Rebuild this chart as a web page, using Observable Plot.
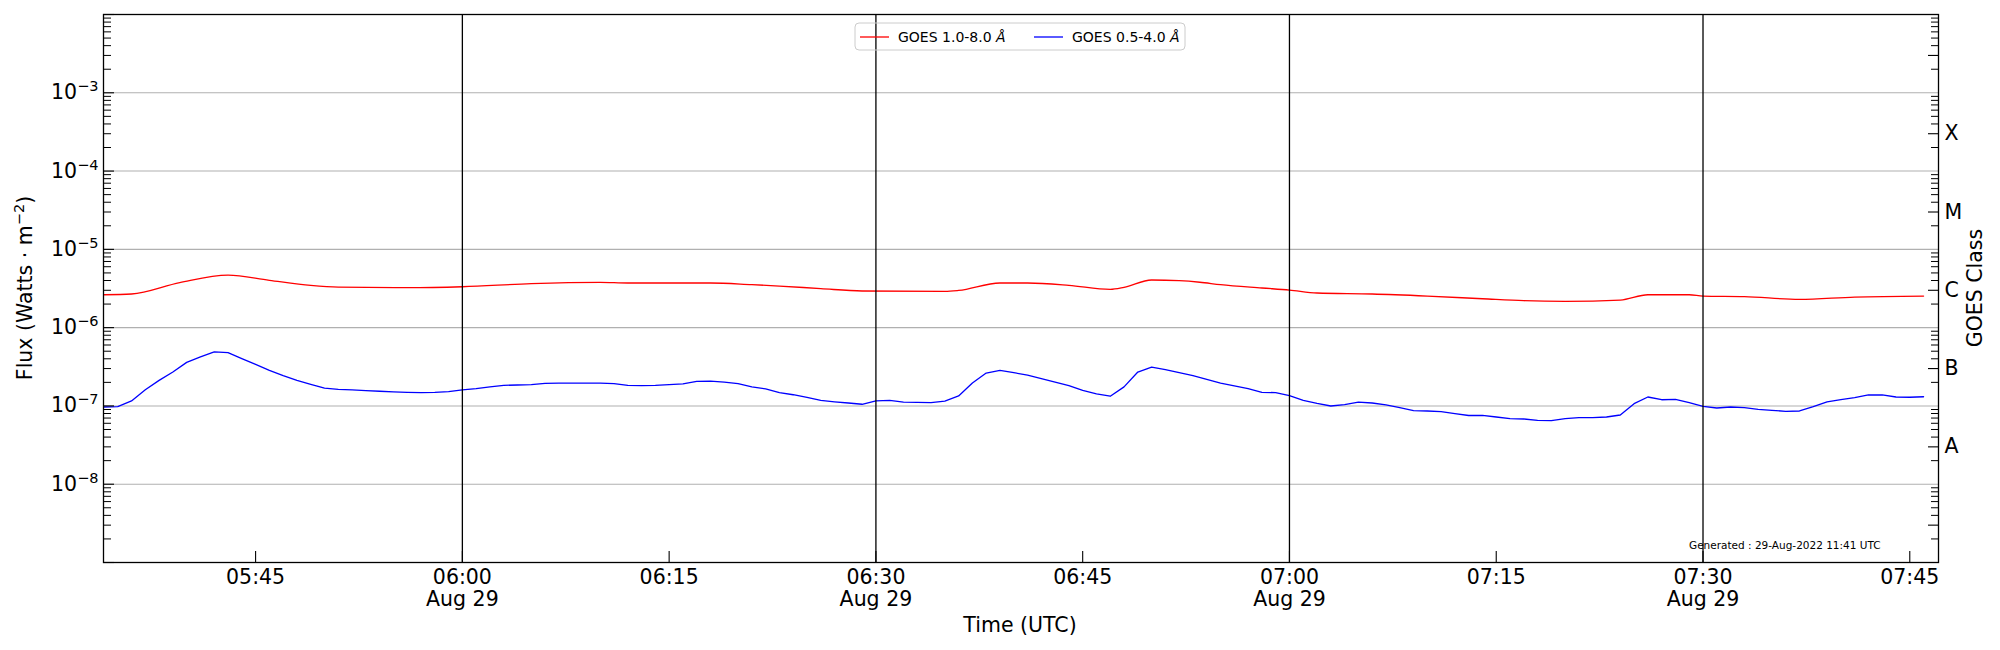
<!DOCTYPE html>
<html><head><meta charset="utf-8">
<script src="https://cdn.jsdelivr.net/npm/d3@7"></script>
<script src="https://cdn.jsdelivr.net/npm/@observablehq/plot@0.6"></script>
<style>
html,body{margin:0;padding:0;background:#fff;}
#chart{position:relative;width:2000px;height:650px;font-family:"DejaVu Sans",sans-serif;}
</style></head><body><div id="chart"></div>
<script>
const day = "2022-08-29";

// GOES 0.5-4.0 Å (blue), 1-minute samples
const blueTimes = [
"05:34","05:35","05:36","05:37","05:38","05:39","05:40","05:41","05:42","05:43","05:44","05:45","05:46","05:47","05:48","05:49","05:50","05:51","05:52","05:53","05:54","05:55","05:56","05:57","05:58","05:59",
"06:00","06:01","06:02","06:03","06:04","06:05","06:06","06:07","06:08","06:09","06:10","06:11","06:12","06:13","06:14","06:15","06:16","06:17","06:18","06:19","06:20","06:21","06:22","06:23","06:24","06:25","06:26","06:27","06:28","06:29",
"06:30","06:31","06:32","06:33","06:34","06:35","06:36","06:37","06:38","06:39","06:40","06:41","06:42","06:43","06:44","06:45","06:46","06:47","06:48","06:49","06:50","06:51","06:52","06:53","06:54","06:55","06:56","06:57","06:58","06:59",
"07:00","07:01","07:02","07:03","07:04","07:05","07:06","07:07","07:08","07:09","07:10","07:11","07:12","07:13","07:14","07:15","07:16","07:17","07:18","07:19","07:20","07:21","07:22","07:23","07:24","07:25","07:26","07:27","07:28","07:29",
"07:30","07:31","07:32","07:33","07:34","07:35","07:36","07:37","07:38","07:39","07:40","07:41","07:42","07:43","07:44","07:45","07:46"];
const blueFlux = [
9.69e-8,9.79e-8,1.16e-7,1.61e-7,2.12e-7,2.71e-7,3.60e-7,4.22e-7,4.89e-7,4.79e-7,4.02e-7,3.40e-7,2.85e-7,2.44e-7,2.12e-7,1.89e-7,1.69e-7,1.63e-7,1.60e-7,1.57e-7,1.54e-7,1.51e-7,1.49e-7,1.48e-7,1.49e-7,1.52e-7,
1.60e-7,1.66e-7,1.75e-7,1.83e-7,1.85e-7,1.87e-7,1.94e-7,1.96e-7,1.96e-7,1.96e-7,1.96e-7,1.93e-7,1.83e-7,1.82e-7,1.83e-7,1.87e-7,1.91e-7,2.06e-7,2.08e-7,2.02e-7,1.93e-7,1.75e-7,1.65e-7,1.48e-7,1.39e-7,1.29e-7,1.18e-7,1.13e-7,1.09e-7,1.05e-7,
1.16e-7,1.18e-7,1.12e-7,1.11e-7,1.10e-7,1.15e-7,1.34e-7,1.96e-7,2.63e-7,2.85e-7,2.66e-7,2.48e-7,2.23e-7,2.02e-7,1.82e-7,1.58e-7,1.43e-7,1.33e-7,1.75e-7,2.71e-7,3.14e-7,2.91e-7,2.66e-7,2.44e-7,2.19e-7,1.96e-7,1.80e-7,1.66e-7,1.49e-7,1.48e-7,
1.35e-7,1.18e-7,1.08e-7,9.98e-8,1.04e-7,1.12e-7,1.09e-7,1.03e-7,9.50e-8,8.70e-8,8.62e-8,8.45e-8,7.97e-8,7.55e-8,7.58e-8,7.22e-8,6.88e-8,6.81e-8,6.55e-8,6.48e-8,6.88e-8,7.08e-8,7.08e-8,7.22e-8,7.66e-8,1.07e-7,1.30e-7,1.20e-7,1.21e-7,1.10e-7,
9.88e-8,9.41e-8,9.69e-8,9.50e-8,9.05e-8,8.79e-8,8.53e-8,8.62e-8,9.79e-8,1.13e-7,1.20e-7,1.28e-7,1.38e-7,1.38e-7,1.30e-7,1.29e-7,1.31e-7];

// GOES 1.0-8.0 Å (red)
const redTimes = ["05:34:00","05:36:00","05:39:30","05:43:00","05:46:00","05:49:00","05:51:00","05:56:00","06:00:00","06:05:00","06:10:00","06:12:00","06:18:00","06:21:00","06:23:00","06:26:00","06:29:00","06:35:00","06:36:00","06:39:00","06:41:00","06:44:00","06:47:00","06:48:00","06:50:00","06:52:00","06:53:30","06:55:00","06:58:00","07:00:00","07:02:00","07:06:00","07:10:00","07:14:00","07:17:00","07:20:00","07:24:00","07:26:00","07:29:00","07:30:00","07:33:00","07:37:00","07:41:00","07:46:00"];
const redFlux = [2.63e-6,2.69e-6,3.76e-6,4.70e-6,4.02e-6,3.47e-6,3.30e-6,3.24e-6,3.33e-6,3.65e-6,3.79e-6,3.72e-6,3.72e-6,3.54e-6,3.40e-6,3.15e-6,2.94e-6,2.91e-6,2.99e-6,3.72e-6,3.72e-6,3.47e-6,3.08e-6,3.27e-6,4.06e-6,3.98e-6,3.80e-6,3.54e-6,3.21e-6,3.02e-6,2.77e-6,2.69e-6,2.53e-6,2.34e-6,2.21e-6,2.17e-6,2.25e-6,2.63e-6,2.63e-6,2.53e-6,2.49e-6,2.30e-6,2.46e-6,2.53e-6];

const xLimits = ["05:33:58","07:47:05"];
const xTickTimes = ["05:45","06:00","06:15","06:30","06:45","07:00","07:15","07:30","07:45"];
const dayLineTimes = ["06:00","06:30","07:00","07:30"];
const decadeExponents = [-9,-8,-7,-6,-5,-4,-3,-2];
const labeledExponents = [-8,-7,-6,-5,-4,-3];
const minorMultipliers = [2,3,4,5,6,7,8,9];
const classExponents = [-8,-7,-6,-5,-4];
const classLabels = ["A","B","C","M","X"];
const legendLabels = ["GOES 1.0-8.0 ", "GOES 0.5-4.0 "];
const seriesColors = ["red","blue"];

const T = s => new Date(`${day}T${s}${s.length === 5 ? ":00" : ""}Z`);
const blueData = blueTimes.map((t, i) => ({t: T(t), v: blueFlux[i]}));
const redData = redTimes.map((t, i) => ({t: T(t), v: redFlux[i]}));
const xTicks = xTickTimes.map(T);
const dayLines = dayLineTimes.map(T);
const decades = decadeExponents.map(e => Math.pow(10, e));
const labeledDecades = labeledExponents.map(e => Math.pow(10, e));
const minorTicks = decadeExponents.slice(0, -1).flatMap(e => minorMultipliers.map(m => m * Math.pow(10, e)));
const rightMajor = decadeExponents.slice(0, -1).map(e => 3 * Math.pow(10, e));
const rightMinor = minorTicks.filter(v => !rightMajor.some(r => Math.abs(r - v) / r < 1e-6));
const classData = classExponents.map((e, i) => ({v: 3 * Math.pow(10, e), label: classLabels[i]}));
const hm = d3.utcFormat("%H:%M");
const xFmt = d => hm(d) + (d.getUTCMinutes() % 30 === 0 ? "\nAug 29" : "");
const empty = () => "";

const svg = Plot.plot({
  width: 2000, height: 650,
  marginLeft: 103, marginRight: 62, marginTop: 14, marginBottom: 88,
  style: {fontFamily: "'DejaVu Sans', sans-serif", fontSize: "20.5px", background: "white", color: "black", overflow: "visible"},
  x: {type: "utc", domain: xLimits.map(T), label: null},
  y: {type: "log", domain: [1e-9, 1e-2], label: null},
  marks: [
    Plot.ruleY(labeledDecades, {stroke: "#b0b0b0", strokeWidth: 1.1}),
    Plot.line(blueData, {x: "t", y: "v", stroke: "blue", strokeWidth: 1.3}),
    Plot.line(redData, {x: "t", y: "v", stroke: "red", strokeWidth: 1.3, curve: "monotone-x"}),
    Plot.ruleX(dayLines, {stroke: "black", strokeWidth: 1.3}),
    Plot.frame({stroke: "black", strokeWidth: 1.3}),
    Plot.axisY({anchor: "left", ticks: decades, tickSize: -11, tickFormat: empty, label: null, strokeWidth: 1.1}),
    Plot.axisY({anchor: "left", ticks: minorTicks, tickSize: -8, tickFormat: empty, label: null, strokeWidth: 1}),
    Plot.axisY({anchor: "left", ticks: labeledDecades, tickSize: 0, tickPadding: 5, label: null,
      tickFormat: d => "10^" + String(Math.round(Math.log10(d))).replace("-", "\u2212")}),
    Plot.axisY({anchor: "right", ticks: rightMajor, tickSize: -11, tickFormat: empty, label: null, strokeWidth: 1.1}),
    Plot.axisY({anchor: "right", ticks: rightMinor, tickSize: -8, tickFormat: empty, label: null, strokeWidth: 1}),
    Plot.text(classData, {y: "v", text: "label", frameAnchor: "right", dx: 6, textAnchor: "start", fontSize: 20.5, fill: "black"}),
    Plot.axisX({anchor: "bottom", ticks: xTicks, tickSize: -11, tickFormat: empty, label: null, strokeWidth: 1.1}),
    Plot.axisX({anchor: "bottom", ticks: xTicks, tickSize: 0, tickPadding: 6, label: null, tickFormat: xFmt, lineHeight: 1.08})
  ]
});

document.getElementById("chart").appendChild(svg);
const s = d3.select(svg);

// superscript exponents for the 10^n tick labels
s.selectAll("text").each(function() {
  const el = d3.select(this);
  if (this.querySelector("tspan")) return;
  const m = /^10\^(.+)$/.exec(this.textContent);
  if (!m) return;
  el.text(null);
  el.append("tspan").text("10");
  el.append("tspan").attr("dy", "-8").attr("font-size", "14.5px").text(m[1]);
});

const ff = "'DejaVu Sans', sans-serif";
const addText = (x, y, size, anchor) => s.append("text").attr("x", x).attr("y", y).attr("dy", "0.35em")
  .attr("text-anchor", anchor).attr("font-family", ff).attr("font-size", size).attr("fill", "black");
// y label
const yl = s.append("text").attr("transform", "translate(25,288) rotate(-90)")
  .attr("text-anchor", "middle").attr("dy", "0.35em").attr("font-family", ff).attr("font-size", "20.5px").attr("fill", "black");
yl.append("tspan").text("Flux (Watts \u00b7 m");
yl.append("tspan").attr("dy", "-8").attr("font-size", "14.5px").text("\u22122");
yl.append("tspan").attr("dy", "8").text(")");
// right label
s.append("text").attr("transform", "translate(1975,288) rotate(-90)")
  .attr("text-anchor", "middle").attr("dy", "0.35em").attr("font-family", ff).attr("font-size", "20.5px").attr("fill", "black").text("GOES Class");
// x label
addText(1020, 625, "20.5px", "middle").text("Time (UTC)");
// generated note
addText(1689, 545, "10.5px", "start").text("Generated : 29-Aug-2022 11:41 UTC");

// legend
const lg = s.append("g").attr("font-family", ff).attr("font-size", "14px").attr("text-anchor", "start");
lg.append("rect").attr("x", 855).attr("y", 23).attr("width", 330).attr("height", 27).attr("rx", 4)
  .attr("fill", "none").attr("stroke", "#cccccc").attr("stroke-width", 1);
const lx = [860, 1034];
legendLabels.forEach((lab, i) => {
  lg.append("line").attr("x1", lx[i]).attr("x2", lx[i] + 29).attr("y1", 37).attr("y2", 37)
    .attr("stroke", seriesColors[i]).attr("stroke-width", 1.3);
  const t = lg.append("text").attr("x", lx[i] + 38).attr("y", 37).attr("dy", "0.35em").attr("fill", "black").attr("text-anchor", "start");
  t.append("tspan").text(lab);
  t.append("tspan").attr("font-style", "italic").text("\u00c5");
});
</script></body></html>
